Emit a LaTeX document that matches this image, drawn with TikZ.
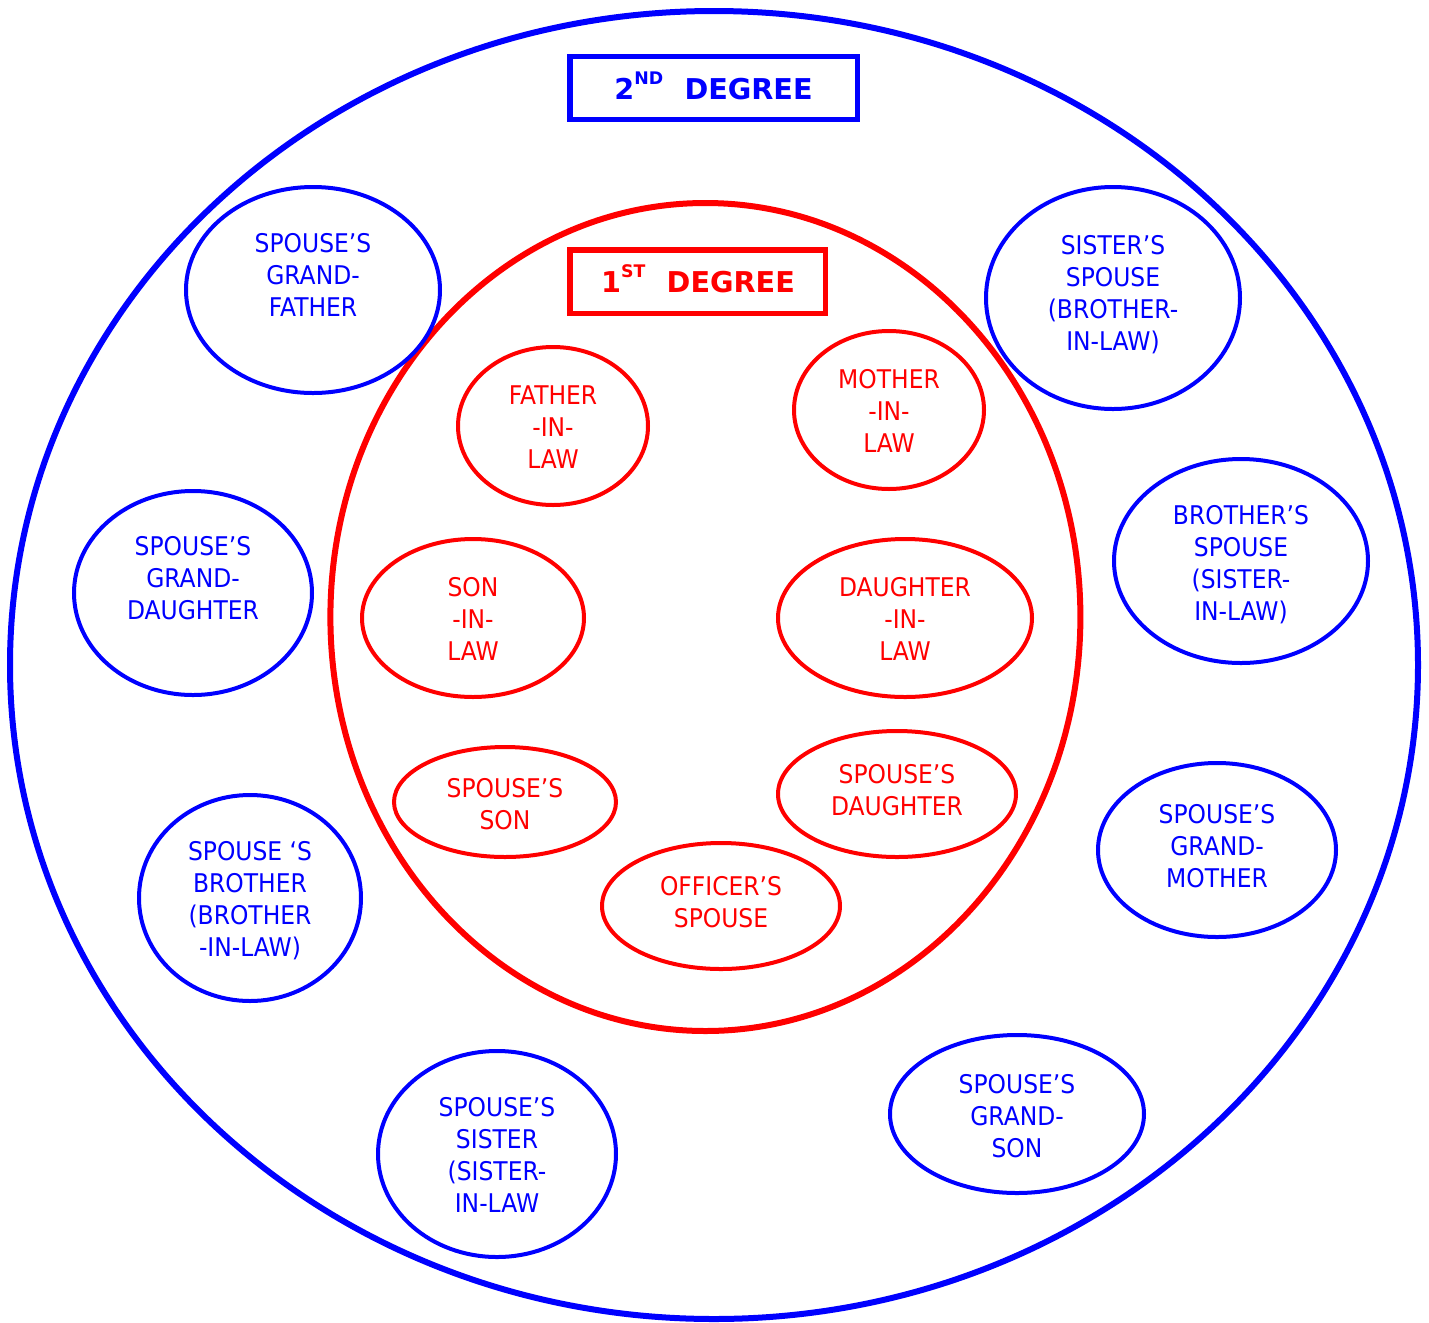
\documentclass[tikz,border=0pt]{standalone}
\usepackage{fontspec}
\usetikzlibrary{shapes.geometric}
\newfontfamily\bodyfont{DejaVu Sans}[FakeStretch=0.91]
\newfontfamily\titlefont{DejaVu Sans}
\definecolor{myblue}{RGB}{0,0,255}
\definecolor{myred}{RGB}{255,0,0}
\tikzset{
  bell/.style 2 args={ellipse, draw=myblue, line width=3pt, inner sep=0pt,
    minimum width={(#1-1)*1.5pt}, minimum height={(#2-1)*1.5pt}},
  rell/.style 2 args={ellipse, draw=myred, line width=3pt, inner sep=0pt,
    minimum width={(#1-1)*1.5pt}, minimum height={(#2-1)*1.5pt}},
  txt/.style={align=center, inner sep=0pt, text depth=0pt,
    font=\bodyfont\fontsize{19.3}{24}\selectfont},
  btxt/.style={txt, text=myblue},
  rtxt/.style={txt, text=myred},
  ttl/.style={inner sep=0pt, text height=15.6pt, text depth=0pt,
    font=\titlefont\bfseries\fontsize{21.5}{24}\selectfont},
  tbox/.style={rectangle, line width=4pt, inner sep=0pt}
}
\newcommand{\supx}[1]{\raisebox{11.5pt}{\fontsize{13}{13}\selectfont #1}}
\begin{document}
\begin{tikzpicture}[x=0.75pt,y=-0.75pt]
\useasboundingbox (0,0) rectangle (1429,1322);
% outer circles
\node[ellipse, draw=myblue, line width=4.5pt, inner sep=0pt,
      minimum width=1056pt, minimum height=981pt] (outer) at (714,665) {};
\node[ellipse, draw=myred, line width=4.5pt, inner sep=0pt,
      minimum width=562.5pt, minimum height=621pt] (inner) at (705.4,617) {};
% title boxes
\node[tbox, draw=myblue, minimum width=215.6pt, minimum height=47pt] (box2) at (713.75,88) {};
\node[ttl, text=myblue] (t2) at (713.5,89) {2\supx{ND}\hspace{16pt}DEGREE};
\node[tbox, draw=myred, minimum width=191.6pt, minimum height=47.5pt] (box1) at (697.75,281.65) {};
\node[ttl, text=myred] (t1) at (698,282.5) {1\supx{ST}\hspace{16pt}DEGREE};
% blue (2nd degree) ellipses
\node[bell={128}{104}] (gf) at (313,290) {};
\node[btxt] (gft) at (313,274.5) {SPOUSE’S\\GRAND-\\FATHER};
\node[bell={128}{112}] (ss) at (1113,298) {};
\node[btxt] (sst) at (1113,293) {SISTER’S\\SPOUSE\\(BROTHER-\\IN-LAW)};
\node[bell={120}{103}] (gd) at (193,593) {};
\node[btxt] (gdt) at (193,578) {SPOUSE’S\\GRAND-\\DAUGHTER};
\node[bell={128}{103}] (bs) at (1241,561) {};
\node[btxt] (bst) at (1241,562.5) {BROTHER’S\\SPOUSE\\(SISTER-\\IN-LAW)};
\node[bell={112}{104}] (sb) at (250,898) {};
\node[btxt] (sbt) at (250,898.5) {SPOUSE ‘S\\BROTHER\\(BROTHER\\-IN-LAW)};
\node[bell={120}{88}] (gm) at (1217,850) {};
\node[btxt] (gmt) at (1217,846) {SPOUSE’S\\GRAND-\\MOTHER};
\node[bell={120}{104}] (sis) at (497,1154) {};
\node[btxt] (sist) at (497,1155) {SPOUSE’S\\SISTER\\(SISTER-\\IN-LAW};
\node[bell={128}{80}] (gs) at (1017,1114) {};
\node[btxt] (gst) at (1017,1116) {SPOUSE’S\\GRAND-\\SON};
% red (1st degree) ellipses
\node[rell={96}{80}] (fil) at (553,426) {};
\node[rtxt] (filt) at (553,427) {FATHER\\-IN-\\LAW};
\node[rell={96}{80}] (mil) at (889,410) {};
\node[rtxt] (milt) at (889,411) {MOTHER\\-IN-\\LAW};
\node[rell={112}{80}] (sil) at (473,618) {};
\node[rtxt] (silt) at (473,619) {SON\\-IN-\\LAW};
\node[rell={128}{80}] (dil) at (905,618) {};
\node[rtxt] (dilt) at (905,619) {DAUGHTER\\-IN-\\LAW};
\node[rell={112}{56}] (sson) at (505,802) {};
\node[rtxt] (ssont) at (505,804) {SPOUSE’S\\SON};
\node[rell={120}{64}] (sdau) at (897,794) {};
\node[rtxt] (sdaut) at (897,790) {SPOUSE’S\\DAUGHTER};
\node[rell={120}{64}] (off) at (721,906) {};
\node[rtxt] (offt) at (721,902) {OFFICER’S\\SPOUSE};
\end{tikzpicture}
\end{document}
